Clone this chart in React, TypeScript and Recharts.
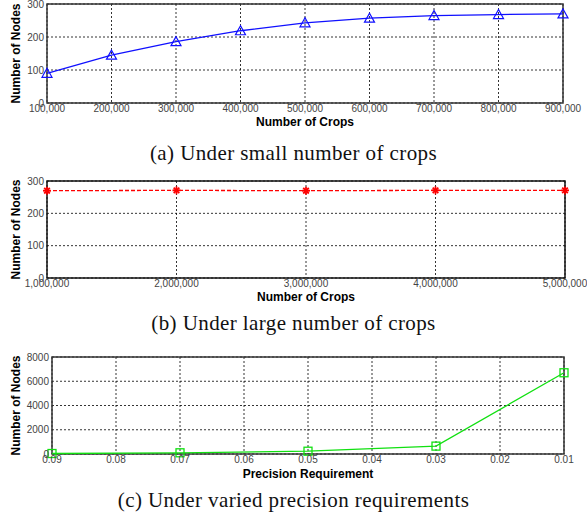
import React from 'react';
import {
  LineChart,
  Line,
  XAxis,
  YAxis,
  CartesianGrid,
  ReferenceArea,
  Label,
} from 'recharts';

// (a) small number of crops
const smallCrops = [100000, 200000, 300000, 400000, 500000, 600000, 700000, 800000, 900000];
const smallNodes = [90, 145, 186, 219, 243, 257, 265, 268, 270];
const smallTicks = [100000, 200000, 300000, 400000, 500000, 600000, 700000, 800000, 900000];

// (b) large number of crops
const largeCrops = [1000000, 2000000, 3000000, 4000000, 5000000];
const largeNodes = [270, 271, 270, 271, 271];
const largeTicks = [1000000, 2000000, 3000000, 4000000, 5000000];

// (c) precision requirement
const precisions = [0.09, 0.07, 0.05, 0.03, 0.01];
const precisionNodes = [40, 100, 230, 650, 6700];
const precisionTicks = [0.09, 0.08, 0.07, 0.06, 0.05, 0.04, 0.03, 0.02, 0.01];

const nodeTicks = [0, 100, 200, 300];
const precisionNodeTicks = [0, 2000, 4000, 6000, 8000];

const smallData = smallCrops.map((c, i) => ({ x: c, y: smallNodes[i] }));
const largeData = largeCrops.map((c, i) => ({ x: c, y: largeNodes[i] }));
const precisionData = precisions.map((p, i) => ({ x: p, y: precisionNodes[i] }));

const SANS = '"Liberation Sans", Arial, sans-serif';
const tickStyle = { fontSize: 10, fill: '#444', fontFamily: SANS };
const labelStyle = { fontSize: 12, fontWeight: 'bold', fill: '#000', fontFamily: SANS };

const fmtInt = (v: number) => v.toLocaleString('en-US');

const TriangleDot = (props: any) => {
  const { cx, cy, index } = props;
  return (
    <path
      key={`t-${index}`}
      d={`M${cx},${cy - 5} L${cx - 5},${cy + 4} L${cx + 5},${cy + 4} Z`}
      fill='none'
      stroke='#1010ff'
      strokeWidth={1.2}
    />
  );
};

const StarDot = (props: any) => {
  const { cx, cy, index } = props;
  const r = 4;
  const d = r * 0.7;
  return (
    <g key={`s-${index}`} stroke='#ff0000' strokeWidth={1.8}>
      <line x1={cx - r} y1={cy} x2={cx + r} y2={cy} />
      <line x1={cx} y1={cy - r} x2={cx} y2={cy + r} />
      <line x1={cx - d} y1={cy - d} x2={cx + d} y2={cy + d} />
      <line x1={cx - d} y1={cy + d} x2={cx + d} y2={cy - d} />
    </g>
  );
};

const SquareDot = (props: any) => {
  const { cx, cy, index } = props;
  return (
    <rect
      key={`q-${index}`}
      x={cx - 4}
      y={cy - 4}
      width={8}
      height={8}
      fill='none'
      stroke='#11e011'
      strokeWidth={1.3}
    />
  );
};

const Caption = ({ top, text }: { top: number; text: string }) => (
  <div
    style={{
      position: 'absolute',
      left: 0,
      top,
      width: 587,
      textAlign: 'center',
      fontFamily: '"Liberation Serif", "Times New Roman", serif',
      fontSize: 21,
      letterSpacing: 0.4,
      lineHeight: '21px',
      color: '#111',
    }}
  >
    {text}
  </div>
);

const App: React.FC = () => {
  return (
    <div style={{ position: 'absolute', left: 0, top: 0, width: 587, height: 522, background: '#fff' }}>
      <div style={{ position: 'absolute', left: 0, top: 0 }}>
        <LineChart width={587} height={128} data={smallData} margin={{ top: 4, right: 24, left: 0, bottom: 0 }}>
          <CartesianGrid stroke='#000' strokeDasharray='2 2' strokeWidth={0.8} />
          <XAxis
            dataKey='x'
            type='number'
            domain={[100000, 900000]}
            ticks={smallTicks}
            tickFormatter={fmtInt}
            tick={tickStyle}
            tickLine={false}
            axisLine={false}
            tickSize={0}
            tickMargin={2}
            height={25}
            interval={0}
          >
            <Label value='Number of Crops' position='insideBottom' offset={2} style={labelStyle} />
          </XAxis>
          <YAxis
            type='number'
            domain={[0, 300]}
            ticks={nodeTicks}
            tick={tickStyle}
            tickLine={false}
            axisLine={false}
            tickSize={0}
            tickMargin={3}
            width={47}
            interval={0}
          >
            <Label value='Number of Nodes' angle={-90} position='insideLeft' offset={16} style={{ ...labelStyle, textAnchor: 'middle' }} />
          </YAxis>
          <ReferenceArea x1={100000} x2={900000} y1={0} y2={300} fill='none' stroke='#333' strokeWidth={1.5} />
          <Line type='linear' dataKey='y' stroke='#1010ff' strokeWidth={1.3} dot={TriangleDot} isAnimationActive={false} />
        </LineChart>
      </div>
      <Caption top={143} text='(a) Under small number of crops' />

      <div style={{ position: 'absolute', left: 0, top: 176 }}>
        <LineChart width={587} height={127} data={largeData} margin={{ top: 5, right: 22, left: 0, bottom: 0 }}>
          <CartesianGrid stroke='#000' strokeDasharray='2 2' strokeWidth={0.8} />
          <XAxis
            dataKey='x'
            type='number'
            domain={[1000000, 5000000]}
            ticks={largeTicks}
            tickFormatter={fmtInt}
            tick={tickStyle}
            tickLine={false}
            axisLine={false}
            tickSize={0}
            tickMargin={2}
            height={25}
            interval={0}
          >
            <Label value='Number of Crops' position='insideBottom' offset={2} style={labelStyle} />
          </XAxis>
          <YAxis
            type='number'
            domain={[0, 300]}
            ticks={nodeTicks}
            tick={tickStyle}
            tickLine={false}
            axisLine={false}
            tickSize={0}
            tickMargin={3}
            width={47}
            interval={0}
          >
            <Label value='Number of Nodes' angle={-90} position='insideLeft' offset={16} style={{ ...labelStyle, textAnchor: 'middle' }} />
          </YAxis>
          <ReferenceArea x1={1000000} x2={5000000} y1={0} y2={300} fill='none' stroke='#111' strokeWidth={1.5} />
          <Line type='linear' dataKey='y' stroke='#ff0000' strokeWidth={1.3} strokeDasharray='4 2' dot={StarDot} isAnimationActive={false} />
        </LineChart>
      </div>
      <Caption top={313} text='(b) Under large number of crops' />

      <div style={{ position: 'absolute', left: 0, top: 352 }}>
        <LineChart width={587} height={128} data={precisionData} margin={{ top: 5, right: 23, left: 0, bottom: 0 }}>
          <CartesianGrid stroke='#000' strokeDasharray='2 2' strokeWidth={0.8} />
          <XAxis
            dataKey='x'
            type='number'
            domain={[0.01, 0.09]}
            reversed
            ticks={precisionTicks}
            tickFormatter={(v: number) => v.toFixed(2)}
            tick={tickStyle}
            tickLine={false}
            axisLine={false}
            tickSize={0}
            tickMargin={2}
            height={26}
            interval={0}
          >
            <Label value='Precision Requirement' position='insideBottom' offset={2} style={labelStyle} />
          </XAxis>
          <YAxis
            type='number'
            domain={[0, 8000]}
            ticks={precisionNodeTicks}
            tick={tickStyle}
            tickLine={false}
            axisLine={false}
            tickSize={0}
            tickMargin={3}
            width={52}
            interval={0}
          >
            <Label value='Number of Nodes' angle={-90} position='insideLeft' offset={16} style={{ ...labelStyle, textAnchor: 'middle' }} />
          </YAxis>
          <ReferenceArea x1={0.01} x2={0.09} y1={0} y2={8000} fill='none' stroke='#333' strokeWidth={1.5} />
          <Line type='linear' dataKey='y' stroke='#11e011' strokeWidth={1.3} dot={SquareDot} isAnimationActive={false} />
        </LineChart>
      </div>
      <Caption top={490} text='(c) Under varied precision requirements' />
    </div>
  );
};

export default App;
